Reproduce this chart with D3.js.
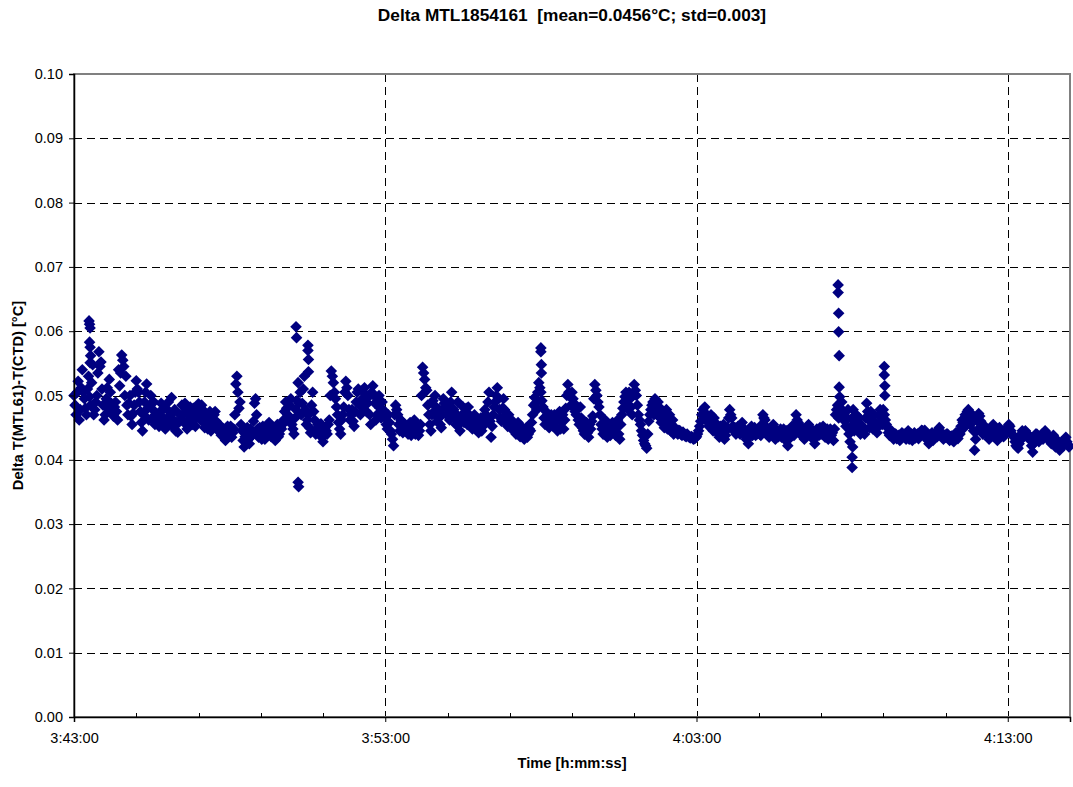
<!DOCTYPE html>
<html>
<head>
<meta charset="utf-8">
<script src="https://cdn.jsdelivr.net/npm/d3@7"></script>
<style>
  html, body { margin: 0; padding: 0; background: #fff; }
  svg { display: block; font-family: Arial, "Liberation Sans", sans-serif; }
</style>
</head>
<body>
<svg id="chart" width="1073" height="787"></svg>
<script>
// ---------------- DATA ----------------
const chartTitle = "Delta MTL1854161  [mean=0.0456\u00B0C; std=0.003]";
const xAxisTitle = "Time [h:mm:ss]";
const yAxisTitle = "Delta T(MTL61)-T(CTD) [\u00B0C]";

const startClockSec = 3 * 3600 + 43 * 60;   // 3:43:00
const endOffsetSec = 1920;                  // axis max 4:15:00
const sampleStepSec = 4;                    // spacing of each reading list

// Readings at 3:43:00 + 4*i s, units of 0.0001 degC
const deltaValuesA = [
  500,470,522,478,540,495,470,530,485,548,
  478,500,568,552,485,470,512,525,488,468,
  490,462,515,563,545,530,470,500,455,485,
  523,505,475,445,490,518,462,500,478,455,
  470,452,488,465,448,478,455,497,462,445,
  443,470,485,458,478,462,482,455,473,465,
  487,462,478,450,470,458,445,462,475,452,
  455,438,448,430,452,440,435,448,518,505,
  490,445,420,440,432,448,438,488,470,435,
  440,452,432,445,458,436,448,430,455,440,
  448,462,490,470,485,455,440,478,520,505,
  488,530,455,470,442,505,462,448,440,456,
  428,450,440,462,538,520,495,470,448,462,
  482,522,500,462,478,452,490,510,470,495,
  512,475,498,455,515,488,470,500,465,478,
  465,448,458,440,422,485,470,445,460,450,
  452,440,458,445,462,448,438,455,544,525,
  508,470,445,492,500,460,478,450,495,482,
  485,462,505,478,455,490,445,470,458,480,
  482,460,448,470,455,442,465,452,478,460,
  505,435,470,490,512,478,460,495,470,452,
  462,448,455,440,458,436,445,432,450,440,
  445,470,497,478,520,505,482,455,468,450,
  470,452,462,445,475,458,448,480,517,498,
  505,488,470,462,482,450,440,458,435,448,
  468,517,500,482,455,440,462,435,448,445,
  452,438,462,432,470,490,505,478,495,470,
  517,500,470,455,438,425,418,460,478,490,
  495,470,482,458,475,462,448,470,455,440,
  448,440,445,438,440,436,437,434,435,433,
  436,445,460,478,482,465,452,470,445,458,
  448,435,442,455,438,450,478,465,445,440,
  452,440,458,448,432,425,445,438,450,440,
  445,438,470,462,450,435,442,455,432,440,
  442,435,448,430,422,440,452,438,470,458,
  445,450,432,440,455,436,442,425,448,438,
  440,452,435,448,442,438,430,470,485,498,
  490,470,452,478,428,465,445,470,458,440,
  452,440,488,462,475,448,458,442,470,465,
  478,462,450,438,445,432,440,436,430,442,
  440,432,445,436,430,442,438,433,441,445,
  446,435,425,438,430,442,436,450,440,432,
  435,440,430,437,428,442,433,440,462,450,
  468,478,455,470,415,445,472,460,440,452,
  445,432,448,455,438,430,450,442,436,445,
  448,452,440,435,422,418,430,445,438,442,
  438,430,412,435,440,428,436,432,445,440,
  432,425,438,420,430,415,428,422,435,424
];

// Readings at 3:43:02 + 4*i s, units of 0.0001 degC
const deltaValuesB = [
  485,505,462,512,505,480,510,498,520,470,
  490,535,545,510,462,495,480,505,472,482,
  475,540,535,555,500,485,488,468,472,505,
  510,490,458,470,505,480,485,465,490,468,
  460,475,455,480,462,490,470,452,478,458,
  458,462,470,488,448,472,465,480,452,476,
  470,485,458,465,448,475,455,470,460,445,
  448,445,440,445,436,452,442,470,530,480,
  455,430,436,450,425,442,460,495,448,450,
  432,442,450,438,445,452,440,448,436,450,
  455,475,480,462,495,448,465,492,488,470,
  510,478,462,450,485,475,440,455,448,435,
  438,445,455,500,530,505,482,458,440,470,
  505,512,478,470,460,475,505,488,482,505,
  495,488,470,505,500,462,490,480,490,470,
  455,470,445,432,470,478,455,462,442,455,
  445,450,438,455,440,452,445,500,535,512,
  485,455,470,475,482,465,455,470,488,470,
  470,490,480,465,470,462,458,482,468,455,
  470,455,462,448,462,455,445,468,470,490,
  460,452,482,500,495,465,480,478,458,470,
  450,460,446,450,445,452,438,445,435,448,
  458,485,488,505,512,492,465,475,458,462,
  460,470,450,465,448,470,462,500,505,485,
  495,475,480,455,465,445,450,442,455,460,
  495,508,490,470,448,452,445,455,438,458,
  445,450,440,455,480,498,485,505,482,500,
  508,485,462,445,430,422,440,470,485,470,
  480,490,465,470,450,478,460,445,462,450,
  442,446,440,443,437,440,435,436,432,434,
  440,452,470,465,472,458,462,450,465,445,
  440,452,445,432,446,465,470,452,450,446,
  445,450,440,438,442,435,452,444,438,445,
  440,455,465,445,440,448,450,440,446,436,
  448,440,438,445,432,446,440,455,462,448,
  438,442,445,450,440,448,432,440,445,450,
  446,440,445,432,448,442,448,478,465,480,
  475,460,465,440,452,478,458,448,465,448,
  445,465,475,450,462,470,448,455,478,455,
  470,455,442,440,436,440,433,438,436,438,
  436,440,432,440,436,434,440,438,446,438,
  440,430,432,442,436,440,445,444,436,438,
  440,433,436,430,436,438,445,452,458,470,
  475,462,465,445,432,460,468,450,446,440,
  438,442,450,445,435,440,446,438,442,450,
  455,445,438,428,420,425,440,436,445,435,
  434,422,425,440,432,432,440,438,442,436,
  428,432,426,425,422,420,425,430,428,420
];

// Extra readings inside short spikes / dips (seconds after 3:43:00, units of 0.0001 degC)
const extraTimesSec = [29,30,31,30,31,32,31, 428,429, 432,433, 451,451,452,452,
  900,900,901,901, 1473,1473,1474,1474,1475,1475, 1500,1500,1501, 1562,1562,1563,1563];
const extraValues = [616,611,605,583,575,562,551, 607,590, 365,358, 578,570,556,537,
  574,568,548,535, 672,660,628,599,562,513, 404,388,420, 545,532,515,500];

const yTickValues = [0, 0.01, 0.02, 0.03, 0.04, 0.05, 0.06, 0.07, 0.08, 0.09, 0.10];
const xMajorTicksSec = [0, 600, 1200, 1800];
const xTickLabels = ["3:43:00", "3:53:00", "4:03:00", "4:13:00"];
const xMinorTicksSec = [120, 240, 360, 480, 720, 840, 960, 1080, 1320, 1440, 1560, 1680];

// ---------------- BUILD ----------------
const points = deltaValuesA.map((v, i) => ({ t: i * sampleStepSec, v: v / 10000 }))
  .concat(deltaValuesB.map((v, i) => ({ t: i * sampleStepSec + 2, v: v / 10000 })))
  .concat(extraTimesSec.map((t, i) => ({ t: t, v: extraValues[i] / 10000 })))
  .sort((a, b) => a.t - b.t);

const margin = { left: 74, right: 1070, top: 74, bottom: 717 };
const svg = d3.select("#chart");
const FONT = "Arial, 'Liberation Sans', sans-serif";

const x = d3.scaleLinear().domain([0, endOffsetSec]).range([margin.left, margin.right]);
const y = d3.scaleLinear().domain([0, 0.10]).range([margin.bottom, margin.top]);

// Horizontal gridlines
svg.append("g").selectAll("line").data(yTickValues.filter(d => d > 0 && d < 0.10)).join("line")
  .attr("x1", margin.left).attr("x2", margin.right)
  .attr("y1", d => Math.round(y(d)) + 0.5).attr("y2", d => Math.round(y(d)) + 0.5)
  .attr("stroke", "#000").attr("stroke-width", 1).attr("stroke-dasharray", "8,5");

// Vertical gridlines
svg.append("g").selectAll("line").data(xMajorTicksSec.filter(d => d > 0)).join("line")
  .attr("x1", d => Math.round(x(d)) + 0.5).attr("x2", d => Math.round(x(d)) + 0.5)
  .attr("y1", margin.top).attr("y2", margin.bottom)
  .attr("stroke", "#000").attr("stroke-width", 1).attr("stroke-dasharray", "8,5");

// Plot border (grey)
svg.append("rect")
  .attr("x", margin.left).attr("y", margin.top)
  .attr("width", margin.right - margin.left).attr("height", margin.bottom - margin.top)
  .attr("fill", "none").attr("stroke", "#808080").attr("stroke-width", 2);

// Points
const diamond = "M0,-5.8L5.8,0L0,5.8L-5.8,0Z";
svg.append("g").selectAll("path").data(points).join("path")
  .attr("d", diamond)
  .attr("transform", d => `translate(${x(d.t)},${y(d.v)})`)
  .attr("fill", "#000080");

// Y axis
const yAxis = d3.axisLeft(y).tickValues(yTickValues).tickFormat(d3.format(".2f"))
  .tickSize(5).tickPadding(6);
const gy = svg.append("g").attr("transform", `translate(${margin.left},0)`).call(yAxis);
gy.select(".domain").attr("stroke", "#000").attr("stroke-width", 1.5);
gy.selectAll(".tick line").attr("stroke", "#000");
gy.selectAll("text").attr("font-size", 14.5).attr("fill", "#000").attr("font-family", FONT);

// X axis (major)
const xAxis = d3.axisBottom(x).tickValues(xMajorTicksSec)
  .tickFormat((d, i) => xTickLabels[i]).tickSize(5).tickPadding(11);
const gx = svg.append("g").attr("transform", `translate(0,${margin.bottom})`).call(xAxis);
gx.select(".domain").attr("stroke", "#000").attr("stroke-width", 1.5);
gx.selectAll(".tick line").attr("stroke", "#000");
gx.selectAll("text").attr("font-size", 14.5).attr("fill", "#000").attr("font-family", FONT);

// X minor ticks (inside)
svg.append("g").selectAll("line").data(xMinorTicksSec).join("line")
  .attr("x1", d => Math.round(x(d)) + 0.5).attr("x2", d => Math.round(x(d)) + 0.5)
  .attr("y1", margin.bottom).attr("y2", margin.bottom - 4)
  .attr("stroke", "#000").attr("stroke-width", 1);

// Titles
svg.append("text").attr("x", 572).attr("y", 21).attr("text-anchor", "middle")
  .attr("font-size", 17.3).attr("font-weight", "bold").attr("font-family", FONT)
  .style("white-space", "pre").text(chartTitle);

svg.append("text").attr("x", 572).attr("y", 768).attr("text-anchor", "middle")
  .attr("font-size", 14.7).attr("font-weight", "bold").attr("font-family", FONT).text(xAxisTitle);

svg.append("text").attr("transform", `translate(23,${(margin.top + margin.bottom) / 2}) rotate(-90)`)
  .attr("text-anchor", "middle").attr("font-size", 14.7).attr("font-weight", "bold")
  .attr("font-family", FONT).text(yAxisTitle);
</script>
</body>
</html>
